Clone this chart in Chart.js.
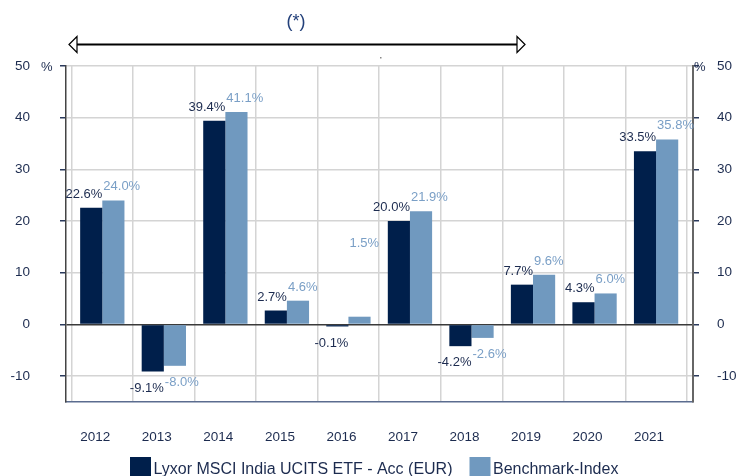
<!DOCTYPE html>
<html>
<head>
<meta charset="utf-8">
<script src="https://cdn.jsdelivr.net/npm/chart.js@4.4.1/dist/chart.umd.min.js"></script>
<style>
  html, body { margin: 0; padding: 0; background: #ffffff; }
  #wrap { width: 736px; height: 476px; position: relative; }
</style>
</head>
<body>
<div id="wrap"><canvas id="c" width="736" height="476"></canvas></div>
<script>
// ---- data ----
const years = ['2012', '2013', '2014', '2015', '2016', '2017', '2018', '2019', '2020', '2021'];
const fundValues = [22.6, -9.1, 39.4, 2.7, -0.1, 20.0, -4.2, 7.7, 4.3, 33.5];
const benchmarkValues = [24.0, -8.0, 41.1, 4.6, 1.5, 21.9, -2.6, 9.6, 6.0, 35.8];
const seriesNames = ['Lyxor MSCI India UCITS ETF - Acc (EUR)', 'Benchmark-Index'];
const yTicks = [-10, 0, 10, 20, 30, 40, 50];

// ---- styles ----
const DARK = '#001f4b';
const LIGHT = '#7099bf';
const TEXT = '#1c2b4f';
const LIGHT_TEXT = '#7a9fc6';
const FONT = '"Liberation Sans", Arial, sans-serif';
// extra vertical shift of individual value labels (style only): [datasetIndex, pointIndex, dy]
const labelShifts = [[1, 4, -60]];

const toPoints = arr => arr.map((v, i) => ({ x: i, y: v }));

const decorPlugin = {
  id: 'decor',
  afterDatasetsDraw(chart) {
    const ctx = chart.ctx;
    ctx.save();
    ctx.font = '13px ' + FONT;
    chart.data.datasets.forEach((ds, di) => {
      const meta = chart.getDatasetMeta(di);
      meta.data.forEach((el, i) => {
        const v = ds.data[i].y;
        const txt = v.toFixed(1) + '%';
        let x, y;
        if (di === 0) { ctx.textAlign = 'right'; x = el.x + el.width / 2; }
        else { ctx.textAlign = 'left'; x = el.x - el.width / 2 + 1; }
        if (v >= 0) { ctx.textBaseline = 'alphabetic'; y = el.y - 10; }
        else { ctx.textBaseline = 'top'; y = Math.max(el.y, el.base) + 10; }
        labelShifts.forEach(s => { if (s[0] === di && s[1] === i) y += s[2]; });
        ctx.fillStyle = di === 0 ? TEXT : LIGHT_TEXT;
        ctx.fillText(txt, x, y);
      });
    });
    ctx.restore();
  },
  afterDraw(chart) {
    const ctx = chart.ctx;
    const area = chart.chartArea;
    ctx.save();
    // percent signs near the top ticks
    ctx.font = '13px ' + FONT;
    ctx.fillStyle = TEXT;
    ctx.textBaseline = 'middle';
    ctx.textAlign = 'left';
    ctx.fillText('%', 41, area.top + 1);
    ctx.fillText('%', area.right + 1, area.top + 1);

    // (*) note
    ctx.font = '18px ' + FONT;
    ctx.fillStyle = '#23407a';
    ctx.textAlign = 'center';
    ctx.fillText('(*)', 296, 22);

    // double arrow
    const ay = 44.5, ax1 = 69, ax2 = 525;
    ctx.strokeStyle = '#000';
    ctx.lineWidth = 2;
    ctx.beginPath();
    ctx.moveTo(ax1 + 8, ay); ctx.lineTo(ax2 - 8, ay);
    ctx.stroke();
    ctx.lineWidth = 1.2;
    ctx.fillStyle = '#fff';
    ctx.beginPath();
    ctx.moveTo(ax1, ay); ctx.lineTo(ax1 + 8, ay - 8); ctx.lineTo(ax1 + 8, ay + 8); ctx.closePath();
    ctx.fill(); ctx.stroke();
    ctx.beginPath();
    ctx.moveTo(ax2, ay); ctx.lineTo(ax2 - 8, ay - 8); ctx.lineTo(ax2 - 8, ay + 8); ctx.closePath();
    ctx.fill(); ctx.stroke();

    // tiny dot
    ctx.fillStyle = '#888';
    ctx.fillRect(380, 57, 1.5, 1.5);

    // legend
    ctx.font = '16px ' + FONT;
    ctx.textAlign = 'left';
    ctx.textBaseline = 'alphabetic';
    let lx = 130;
    [DARK, LIGHT].forEach((col, k) => {
      ctx.fillStyle = col;
      ctx.fillRect(lx, 457, 21, 20);
      ctx.fillStyle = TEXT;
      ctx.fillText(seriesNames[k], lx + 23.5, 474);
      lx += 23.5 + ctx.measureText(seriesNames[k]).width + 17;
    });
    ctx.restore();
  }
};

new Chart(document.getElementById('c'), {
  type: 'bar',
  data: {
    datasets: [
      { label: seriesNames[0], data: toPoints(fundValues), backgroundColor: DARK, borderWidth: 0,
        categoryPercentage: 0.72, barPercentage: 1.0, minBarLength: 2 },
      { label: seriesNames[1], data: toPoints(benchmarkValues), backgroundColor: LIGHT, borderWidth: 0,
        categoryPercentage: 0.72, barPercentage: 1.0, minBarLength: 2 }
    ]
  },
  options: {
    responsive: false,
    animation: false,
    devicePixelRatio: 1,
    layout: { padding: { top: 66, left: 0, right: 0, bottom: 0 } },
    plugins: { legend: { display: false }, tooltip: { enabled: false }, title: { display: false } },
    scales: {
      x: {
        type: 'linear',
        min: -0.59, max: 9.6,
        offset: false,
        afterFit(s) { s.height = 74; },
        afterBuildTicks(s) { s.ticks = years.map((_, i) => ({ value: i })); },
        ticks: {
          stepSize: 1, includeBounds: false, padding: 27, labelOffset: -7,
          color: TEXT, font: { family: FONT, size: 13.5 },
          callback: v => years[v] !== undefined ? years[v] : ''
        },
        grid: { color: '#d4d4d4', lineWidth: 1.5, drawTicks: false },
        border: { color: '#5b6c8f', width: 1.5 }
      },
      y: {
        position: 'left',
        min: -15, max: 50,
        afterFit(s) { s.width = 66; },
        afterBuildTicks(s) { s.ticks = yTicks.map(v => ({ value: v })); },
        ticks: { padding: 30, color: TEXT, font: { family: FONT, size: 13.5 } },
        grid: {
          color: c => c.tick && c.tick.value === 0 ? '#3a3a3a' : '#d4d4d4',
          lineWidth: 1.5, tickLength: 6, tickColor: '#2b3a5c'
        },
        border: { color: '#444', width: 1.5 }
      },
      y2: {
        position: 'right',
        min: -15, max: 50,
        afterFit(s) { s.width = 43; },
        afterBuildTicks(s) { s.ticks = yTicks.map(v => ({ value: v })); },
        ticks: { padding: 18, color: TEXT, font: { family: FONT, size: 13.5 } },
        grid: { drawOnChartArea: false, tickLength: 6, tickColor: '#2b3a5c', lineWidth: 1.5 },
        border: { color: '#666', width: 2 }
      }
    }
  },
  plugins: [decorPlugin]
});
</script>
</body>
</html>
